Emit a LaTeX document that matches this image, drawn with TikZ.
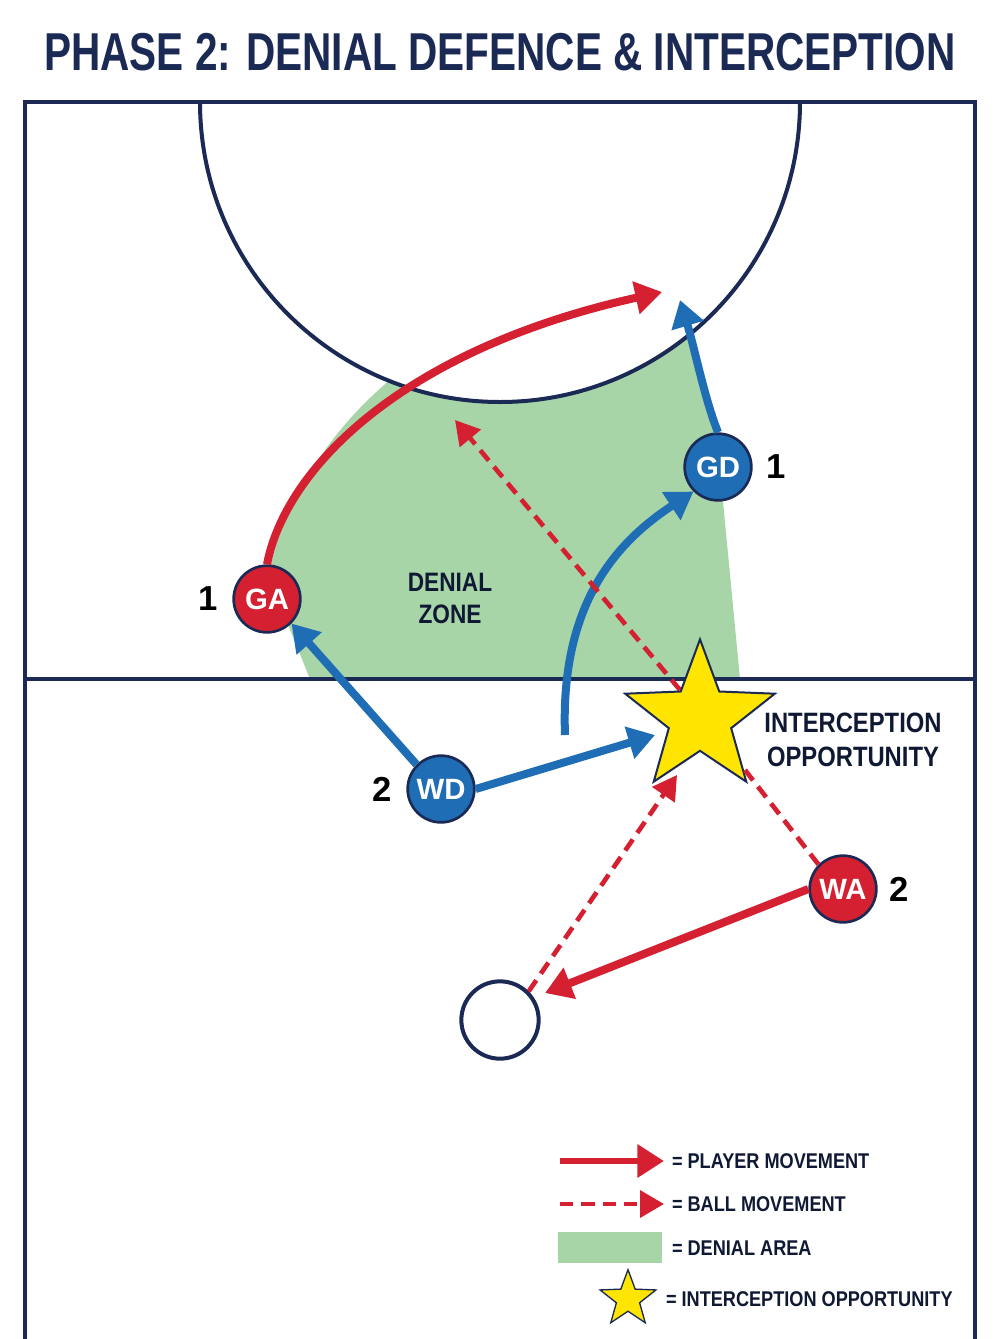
\documentclass[tikz,border=0pt]{standalone}
\usepackage{fontspec}
\setmainfont{Liberation Sans}
\usetikzlibrary{arrows.meta,shapes.geometric}
\definecolor{navy}{HTML}{1B2A55}
\definecolor{pred}{HTML}{D42030}
\definecolor{pblue}{HTML}{1F6DB5}
\definecolor{zone}{HTML}{A8D5A8}
\definecolor{starY}{HTML}{FFE500}
\begin{document}
\begin{tikzpicture}[x=0.75pt,y=-0.75pt,
 line/.style={navy,line width=3pt},
 player/.style={circle,minimum size=50pt,draw=navy,line width=2pt,text=white,font=\bfseries\fontsize{22}{22}\selectfont},
 num/.style={text=black,font=\bfseries\fontsize{26}{26}\selectfont},
 rmove/.style={pred,line width=6pt,-{Triangle[length=20pt,width=24pt]}},
 bmove/.style={pblue,line width=6pt,-{Triangle[length=20pt,width=24pt]}},
 ball/.style={pred,line width=3.5pt,dash pattern=on 10pt off 6pt,-{Triangle[length=18pt,width=20pt]}},
 lbl/.style={text=navy!60!black,font=\bfseries\fontsize{19}{22}\selectfont,xscale=0.85,align=center},
 istar/.style={shape=star,star points=5,star point ratio=2.4,fill=starY,draw=navy,line width=1.5pt}]
\useasboundingbox (0,0) rectangle (1000,1339);
\fill[white] (0,0) rectangle (1000,1339);
\node[text=navy,font=\bfseries\fontsize{40}{40}\selectfont,xscale=0.76] (title) at (500,52) {PHASE 2: DENIAL DEFENCE \& INTERCEPTION};
% green zone
\fill[zone] (268,575) .. controls (285,500) and (330,430) .. (390,380)
  arc[start angle=111.5,end angle=50.7,radius=300] .. controls (705,380) and (715,420) .. (720,470) -- (740,679) -- (310,679) -- cycle;
% court
\draw[line] (25,1339) -- (25,102) -- (975,102) -- (975,1339);
\draw[line] (25,679) -- (975,679);
\draw[line] (200,102) arc[start angle=180,end angle=0,radius=300];
% nodes
\node[player,fill=pblue] (GD) at (718,467) {GD};
\node[num] (n1) at (776,467) {1};
\node[player,fill=pred] (GA) at (267,599) {GA};
\node[num] (n2) at (208,599) {1};
\node[player,fill=pblue] (WD) at (441,789) {WD};
\node[num] (n3) at (382,789) {2};
\node[player,fill=pred] (WA) at (843,889) {WA};
\node[num] (n4) at (899,889) {2};
\node[circle,draw=navy,line width=3pt,fill=white,minimum size=58pt] (ball) at (500,1020) {};
\coordinate (t1) at (662,292);
\coordinate (t2) at (680,300);
\coordinate (t3) at (455,420);
\coordinate (s1) at (565,735);
\coordinate (s2) at (655,735);
\coordinate (s3) at (677,775);
\coordinate (s4) at (545,993);
\coordinate (sc) at (680,690);
% movements
\draw[rmove] (GA.north) .. controls (285,470) and (400,350) .. (t1);
\draw[bmove] (GD.north) .. controls (705,400) and (695,350) .. (t2);
\draw[bmove] (WD.north west) -- (GA.south east);
\draw[bmove] (WD.east) -- (s2);
\draw[bmove] (s1) .. controls (560,600) and (620,540) .. (GD.south west);
\draw[rmove] (WA.west) -- (s4);
\draw[ball] (sc) -- (t3);
\node[istar,minimum size=118pt] (S) at (700,718) {};
\draw[ball] (ball.north east) -- (s3);
\draw[pred,line width=3.5pt,dash pattern=on 10pt off 6pt] (WA.north west) -- (745,770);
\node[lbl,font=\bfseries\fontsize{20}{24}\selectfont] (dz) at (450,598) {DENIAL\\ZONE};
\node[lbl,font=\bfseries\fontsize{21}{26}\selectfont] (io) at (853,740) {INTERCEPTION\\OPPORTUNITY};
% legend
\coordinate (l1a) at (560,1161); \coordinate (l1b) at (664,1161);
\coordinate (l2a) at (560,1204); \coordinate (l2b) at (664,1204);
\draw[rmove,line width=5pt] (l1a) -- (l1b);
\draw[ball] (l2a) -- (l2b);
\fill[zone] (558,1232) rectangle (662,1263);
\node[istar,minimum size=44pt,line width=1pt] (ls) at (628,1299) {};
\node[lbl,anchor=west,font=\bfseries\fontsize{16}{16}\selectfont] at (668,1161) {= PLAYER MOVEMENT};
\node[lbl,anchor=west,font=\bfseries\fontsize{16}{16}\selectfont] at (668,1204) {= BALL MOVEMENT};
\node[lbl,anchor=west,font=\bfseries\fontsize{16}{16}\selectfont] at (668,1248) {= DENIAL AREA};
\node[lbl,anchor=west,font=\bfseries\fontsize{16}{16}\selectfont] at (662,1299) {= INTERCEPTION OPPORTUNITY};
\end{tikzpicture}
\end{document}
